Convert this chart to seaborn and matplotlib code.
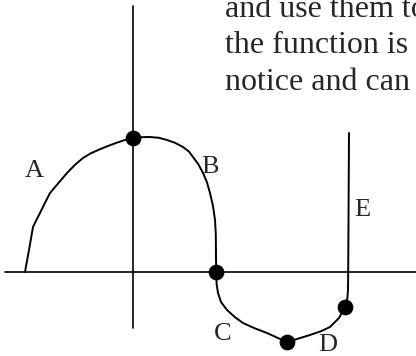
import pandas as pd
import matplotlib
matplotlib.use("Agg")
import matplotlib.pyplot as plt
import seaborn as sns

# curve (origin where the axes cross)
curve_x = [-2.7, -2.6, -2.5, -2.4, -2.325, -2.2, -2.075, -1.85, -1.65, -1.45, -1.25,
           -1.05, -0.825, -0.6, -0.4, -0.2, 0.0, 0.2, 0.425, 0.65, 0.85, 1.05,
           1.25, 1.4, 1.5, 1.63, 1.75, 1.85, 1.925, 2.0, 2.05, 2.07, 2.075, 2.075,
           2.09, 2.125, 2.2, 2.35, 2.55, 2.75, 3.05, 3.35, 3.6, 3.85,
           4.15, 4.425, 4.7, 4.925, 5.15, 5.3, 5.36, 5.375, 5.38, 5.4]
curve_y = [0.0, 0.55, 1.125, 1.33, 1.475, 1.73, 1.975, 2.24, 2.475, 2.68, 2.85,
           2.97, 3.07, 3.16, 3.235, 3.3, 3.35, 3.37, 3.375, 3.355, 3.3, 3.23,
           3.125, 3.01, 2.875, 2.7, 2.475, 2.24, 1.975, 1.65, 1.3, 0.95, 0.625, 0.0,
           -0.3, -0.525, -0.75, -0.95, -1.13, -1.275, -1.41, -1.525, -1.64, -1.75,
           -1.66, -1.575, -1.48, -1.375, -1.15, -0.875, -0.65, -0.45, 0.0, 3.475]

# marked points
dot_x = [0.0, 2.075, 3.85, 5.3]
dot_y = [3.35, 0.0, -1.75, -0.875]

# segment labels
labels = ["A", "B", "C", "D", "E"]
label_x = [-2.475, 1.925, 2.25, 4.875, 5.725]
label_y = [2.525, 2.625, -1.55, -1.825, 1.55]

# text lines at the top right
text_lines = ["and use them to", "the function is", "notice and can"]
text_y = [6.375, 5.475, 4.55]

df = pd.DataFrame({"x": curve_x, "y": curve_y})
dots = pd.DataFrame({"x": dot_x, "y": dot_y})

sns.set_style("white")
plt.rcParams["font.family"] = ["Liberation Serif", "DejaVu Serif"]

fig = plt.figure(figsize=(4.16, 3.56), dpi=100)
ax = fig.add_axes([0, 0, 1, 1])

# coordinate axes
ax.plot([-3.2, 7.1], [0, 0], color="black", lw=1.2)
ax.plot([0, 0], [-1.4, 6.65], color="black", lw=1.2)

sns.lineplot(data=df, x="x", y="y", sort=False, color="black", lw=1.4, ax=ax)
sns.scatterplot(data=dots, x="x", y="y", color="black", s=110, edgecolor="black",
                zorder=5, ax=ax)

for lab, lx, ly in zip(labels, label_x, label_y):
    ax.text(lx, ly, lab, fontsize=19, ha="center", va="center")

for line, ty in zip(text_lines, text_y):
    ax.text(2.3, ty, line, fontsize=23, ha="left", va="baseline")

ax.set_xlim(-3.325, 7.075)
ax.set_ylim(-2.1, 6.8)
ax.set_axis_off()

plt.savefig("out.png", dpi=100)
